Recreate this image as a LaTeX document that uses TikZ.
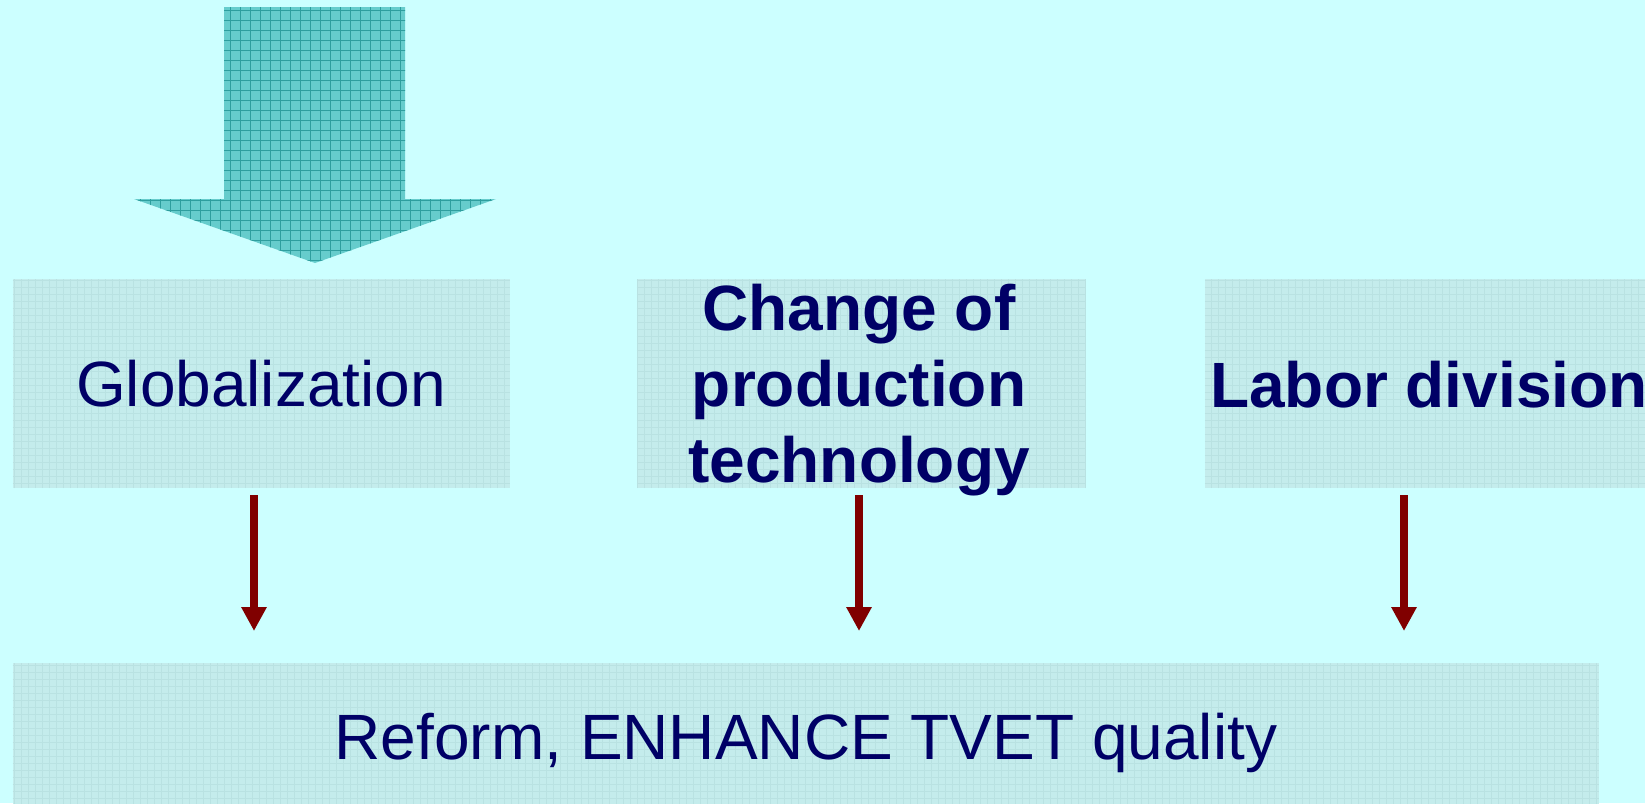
\documentclass[tikz,border=0pt]{standalone}
\usepackage{fontspec}
\setmainfont{Liberation Sans}
\usetikzlibrary{arrows.meta}
\definecolor{bgcol}{HTML}{CCFFFF}
\definecolor{boxcol}{HTML}{C4ECEC}
\definecolor{boxgrid}{HTML}{B9E2E2}
\definecolor{bigcol}{HTML}{66CCCC}
\definecolor{biggrid}{HTML}{2E9E9E}
\definecolor{navy}{HTML}{000066}
\definecolor{darkred}{HTML}{800000}
\tikzset{
  box/.style={fill=boxcol, draw=none, inner sep=0pt, minimum width=449pt, minimum height=209pt},
  txt/.style={text=navy, inner sep=0pt, font=\fontsize{64}{76}\selectfont},
  btxt/.style={txt, font=\fontsize{64}{76}\selectfont\bfseries},
  redarrow/.style={draw=darkred, line width=8pt, -{Triangle[width=24pt,length=24pt]}}
}
\begin{document}
\begin{tikzpicture}[x=1pt,y=-1pt]
\useasboundingbox (0,0) rectangle (1645,803);
\clip (0,0) rectangle (1645,803);
\fill[bgcol] (0,0) rectangle (1645,803);
% big arrow
\begin{scope}
\clip (224,7) -- (405,7) -- (405,199) -- (496,199) -- (315,263) -- (134,199) -- (224,199) -- cycle;
\fill[bigcol] (130,0) rectangle (500,270);
\draw[biggrid, line width=0.9pt, step=10pt] (124,7) grid (500,270);
\end{scope}
% boxes
\node (glob) [box, minimum width=497pt] at (261.5,383.5) {};
\node (mid) [box] at (861.5,383.5) {};
\node (labor) [box] at (1429.5,383.5) {};
\node (reform) [box, minimum width=1586pt, minimum height=150pt, anchor=north west] at (12.6,663) {};
\foreach \n in {glob,mid,labor,reform}{
  \begin{scope}
  \clip (\n.north west) rectangle (\n.south east);
  \draw[boxgrid, line width=0.4pt, step=7pt] (\n.north west) grid (\n.south east);
  \end{scope}
}
% texts
\node (globtxt) [txt, anchor=base] at (261,406.7) {Globalization};
\node (midtxt) [btxt, align=center] at (859,390.3) {Change of\\production\\technology};
\node (labtxt) [btxt, anchor=base west] at (1210,407) {Labor division};
\node (reftxt) [txt, anchor=base] at (806,759) {Reform, ENHANCE TVET quality};
% arrows
\draw[redarrow] ([xshift=-7.5pt,yshift=-7pt]glob.south) -- ([xshift=-7.5pt]glob.south |- reform.north) [shorten >=32pt];
\draw[redarrow] ([xshift=-2.5pt,yshift=-7pt]mid.south) -- ([xshift=-2.5pt]mid.south |- reform.north) [shorten >=32pt];
\draw[redarrow] ([xshift=-25.5pt,yshift=-7pt]labor.south) -- ([xshift=-25.5pt]labor.south |- reform.north) [shorten >=32pt];
\end{tikzpicture}
\end{document}
